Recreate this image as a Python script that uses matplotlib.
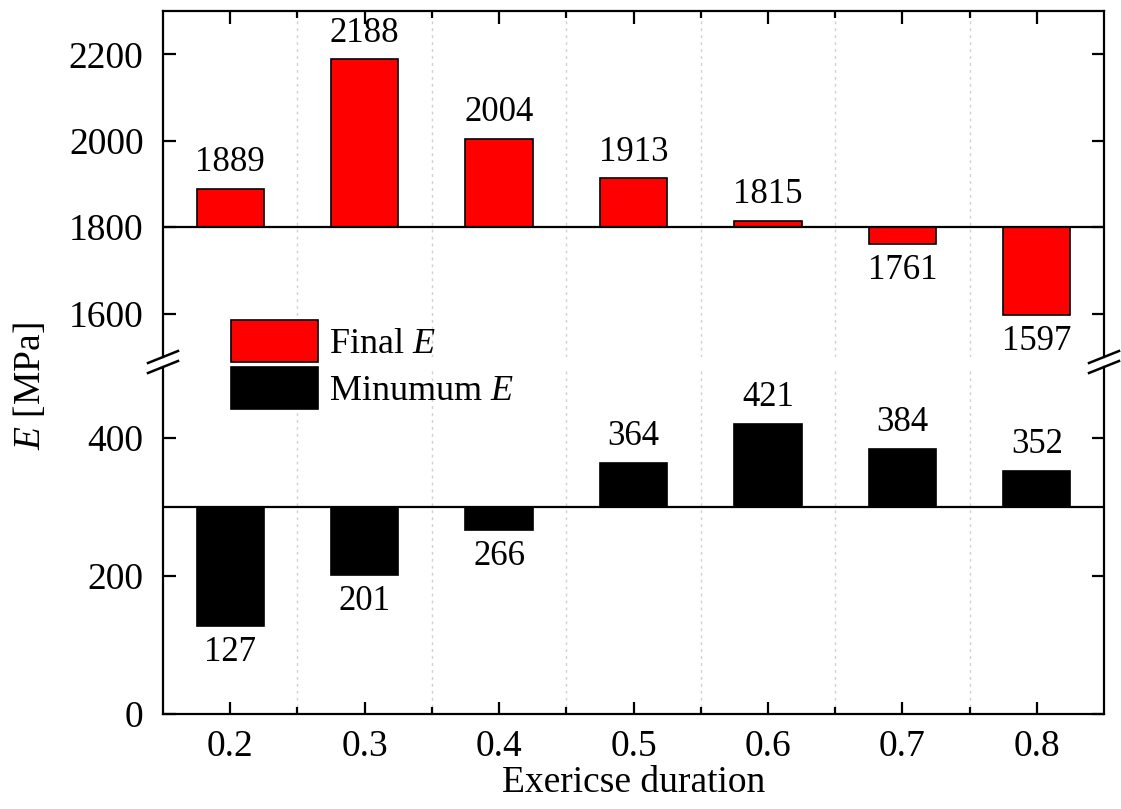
import matplotlib
matplotlib.use("Agg")
import matplotlib.pyplot as plt
from matplotlib.lines import Line2D
from matplotlib.patches import Patch

plt.rcParams['font.family'] = ['Liberation Serif', 'DejaVu Serif']
plt.rcParams['mathtext.fontset'] = 'custom'
plt.rcParams['mathtext.rm'] = 'Liberation Serif'
plt.rcParams['mathtext.it'] = 'Liberation Serif:italic'

# ---- data ----
durations = [0.2, 0.3, 0.4, 0.5, 0.6, 0.7, 0.8]
tick_labels = ['0.2', '0.3', '0.4', '0.5', '0.6', '0.7', '0.8']
final_E = [1889, 2188, 2004, 1913, 1815, 1761, 1597]
minimum_E = [127, 201, 266, 364, 421, 384, 352]
final_base = 1800
min_base = 300

W, H = 1121, 809
fig = plt.figure(figsize=(W / 100, H / 100), dpi=100)

L, R = 163, 1104
top_t, top_b = 11, 357
bot_t, bot_b = 367, 714

def fx(px):
    return px / W

def fy(py):
    return 1 - py / H

ax_top = fig.add_axes([fx(L), fy(top_b), fx(R - L), (top_b - top_t) / H])
ax_bot = fig.add_axes([fx(L), fy(bot_b), fx(R - L), (bot_b - bot_t) / H])

bar_w = 0.05
tick_fs = 27
ann_fs = 25

ax_top.bar(durations, [v - final_base for v in final_E], bottom=final_base,
           width=bar_w, color='#ff0000', edgecolor='black', linewidth=1.2, zorder=3)
ax_bot.bar(durations, [v - min_base for v in minimum_E], bottom=min_base,
           width=bar_w, color='black', edgecolor='black', linewidth=1.2, zorder=3)

ax_top.axhline(final_base, color='black', lw=1.6, zorder=4)
ax_bot.axhline(min_base, color='black', lw=1.6, zorder=4)

for ax, vals, base in ((ax_top, final_E, final_base), (ax_bot, minimum_E, min_base)):
    for x, v in zip(durations, vals):
        if v >= base:
            ax.annotate(str(v), (x, v), xytext=(0, 7), textcoords='offset points',
                        ha='center', va='bottom', fontsize=ann_fs, zorder=5)
        else:
            ax.annotate(str(v), (x, v), xytext=(0, -7), textcoords='offset points',
                        ha='center', va='top', fontsize=ann_fs, zorder=5)

ax_top.set_ylim(1500, 2300)
ax_bot.set_ylim(0, 503)
for ax in (ax_top, ax_bot):
    ax.set_xlim(0.15, 0.85)
    ax.set_xticks(durations)
    ax.set_xticks([0.25, 0.35, 0.45, 0.55, 0.65, 0.75], minor=True)
    ax.grid(axis='x', which='minor', color='#d0d0d0', linestyle=(0, (2, 3)), lw=1.0, zorder=0)
    for sp in ax.spines.values():
        sp.set_linewidth(1.6)
    ax.tick_params(axis='both', which='major', direction='in', length=9, width=1.6,
                   labelsize=tick_fs, right=True)
    ax.tick_params(axis='y', which='major', pad=14)
    ax.tick_params(axis='x', which='minor', direction='in', length=5, width=1.6)

ax_top.set_yticks([1600, 1800, 2000, 2200])
ax_bot.set_yticks([0, 200, 400])
ax_top.spines['bottom'].set_visible(False)
ax_bot.spines['top'].set_visible(False)
ax_top.tick_params(axis='x', which='both', bottom=False, top=True, labelbottom=False)
ax_bot.tick_params(axis='x', which='both', bottom=True, top=False)
ax_bot.set_xticklabels(tick_labels)
ax_bot.tick_params(axis='x', which='major', pad=11)
ax_bot.set_xlabel('Exericse duration', fontsize=27, labelpad=1)

# break marks
for px in (L, R):
    for py in (top_b, bot_t):
        fig.add_artist(Line2D([fx(px - 15), fx(px + 15)], [fy(py + 6), fy(py - 6)],
                              color='black', lw=1.8, transform=fig.transFigure))

fig.text(fx(30), fy(386), r'$E$ [MPa]', rotation=90, ha='center', va='center', fontsize=27)

handles = [Patch(facecolor='#ff0000', edgecolor='black', linewidth=1.2),
           Patch(facecolor='black', edgecolor='black', linewidth=1.2)]
fig.legend(handles, [r'Final $E$', r'Minumum $E$'], loc='upper left',
           bbox_to_anchor=(fx(224), fy(313)), frameon=False, fontsize=26,
           handlelength=2.4, handleheight=1.4, handletextpad=0.3, labelspacing=0.15,
           borderpad=0.2, borderaxespad=0)

fig.savefig('out.png', dpi=100)
